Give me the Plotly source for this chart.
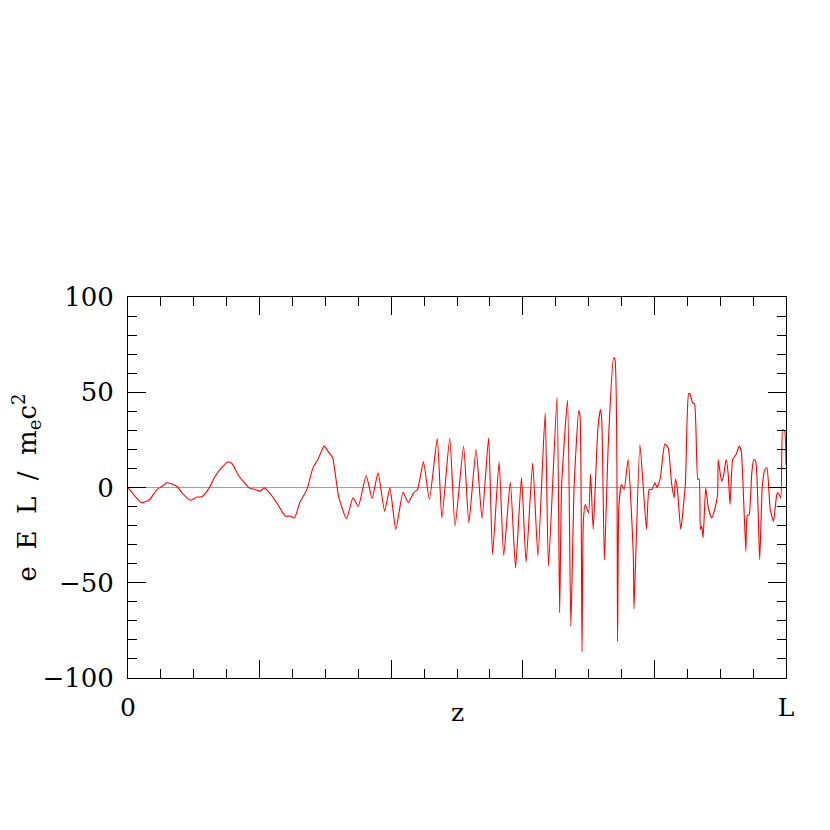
import plotly.graph_objects as go

# ---- data (z in units of L, field in e E L / m_e c^2) ----

Z = [
    0.000, 0.021, 0.033, 0.044, 0.051, 0.059, 0.066, 0.075, 0.082, 0.095,
    0.105, 0.112, 0.122, 0.132, 0.142, 0.152, 0.158, 0.168, 0.175, 0.184,
    0.193, 0.201, 0.207, 0.213, 0.226, 0.239, 0.246, 0.253, 0.261, 0.272,
    0.281, 0.289, 0.298, 0.304, 0.311, 0.320, 0.332, 0.342, 0.350, 0.362,
    0.371, 0.380, 0.390, 0.398, 0.407, 0.418, 0.426, 0.434, 0.440, 0.449,
    0.458, 0.470, 0.477, 0.489, 0.497, 0.510, 0.518, 0.529, 0.538, 0.548,
    0.554, 0.564, 0.571, 0.581, 0.589, 0.598, 0.605, 0.615, 0.623, 0.634,
    0.639, 0.652, 0.656, 0.659, 0.668, 0.673, 0.678, 0.685, 0.687, 0.690,
    0.692, 0.695, 0.700, 0.703, 0.707, 0.714, 0.718, 0.720, 0.724, 0.730,
    0.738, 0.740, 0.744, 0.746, 0.750, 0.754, 0.760, 0.768, 0.769, 0.778,
    0.788, 0.792, 0.796, 0.801, 0.804, 0.809, 0.813, 0.816, 0.821, 0.826,
    0.830, 0.832, 0.835, 0.840, 0.847, 0.852, 0.854, 0.858, 0.861, 0.866,
    0.868, 0.870, 0.872, 0.874, 0.878, 0.882, 0.887, 0.891, 0.896, 0.897,
    0.902, 0.905, 0.909, 0.912, 0.915, 0.919, 0.924, 0.929, 0.932, 0.935,
    0.939, 0.941, 0.944, 0.948, 0.951, 0.954, 0.960, 0.964, 0.968, 0.971,
    0.976, 0.981, 0.986, 0.988, 0.992, 0.995, 0.998, 1.000,
]

FIELD = [
    0.0, -8.0, -6.3, -1.0, 0.4, 2.5, 2.0, 0.4, -2.8, -6.7,
    -5.0, -4.9, -1.0, 5.6, 10.3, 13.5, 12.6, 6.3, 3.3, -0.2,
    -1.0, -1.9, -0.2, -1.9, -8.0, -15.0, -15.0, -16.0, -8.0, -1.0,
    10.3, 15.0, 21.7, 19.0, 15.6, -4.6, -16.4, -5.4, -9.8, 6.3,
    -5.8, 7.7, -12.4, -0.2, -22.0, -2.5, -8.0, -2.8, -1.0, 13.5,
    -6.3, 25.7, -16.0, 26.0, -20.3, 21.7, -18.5, 20.0, -16.3, 26.0,
    -35.2, 13.5, -35.7, 2.8, -42.2, 5.4, -39.2, 13.0, -36.0, 39.2,
    -41.3, 47.4, -65.8, 0.7, 45.8, -72.8, 0.7, 40.4, 37.4, -86.3,
    -17.7, -8.9, -13.3, 7.2, -22.0, 30.4, 40.9, 35.7, -38.2, 23.5,
    68.0, 67.5, -80.7, -9.8, 1.6, -1.0, 14.7, -36.0, -63.7, 22.6,
    -22.0, -1.0, -1.0, 2.5, 0.0, 5.0, 17.3, 23.0, 20.8, 2.5,
    -5.4, 4.5, -1.0, -22.0, 1.6, 49.3, 49.3, 44.5, 44.0, 4.2,
    4.5, -22.0, -20.3, -26.4, -0.2, -10.7, -16.0, -12.4, -3.7, 14.7,
    3.3, 6.0, 14.7, 7.7, -8.9, 14.7, 17.3, 21.7, 19.0, -1.0,
    -33.4, -15.0, -14.2, 7.7, 14.7, 13.8, -37.8, 0.7, 9.4, 10.3,
    -11.5, -17.7, -3.7, -2.8, -5.4, 30.4, 29.6, 12.0,
]

X_TICKVALS = [0, 0.2, 0.4, 0.6, 0.8, 1.0]
X_TICKTEXT = ["0", "", "", "", "", "L"]
Y_TICKVALS = [-100, -50, 0, 50, 100]
Y_TICKTEXT = ["\u2212100", "\u221250", "0", "50", "100"]

FONT = "DejaVu Serif"

fig = go.Figure()
fig.add_trace(go.Scatter(
    x=Z, y=FIELD, mode="lines",
    line=dict(color="#ff0000", width=1.1, shape="spline", smoothing=0.5),
    hoverinfo="skip", showlegend=False,
))

axis_common = dict(
    showline=True, linecolor="black", linewidth=1, mirror="ticks",
    ticks="inside", ticklen=18, tickwidth=1, tickcolor="black",
    showgrid=False,
)

fig.update_xaxes(
    range=[0, 1], tickvals=X_TICKVALS, ticktext=X_TICKTEXT,
    minor=dict(ticks="inside", ticklen=9, dtick=0.05, tickcolor="black", showgrid=False),
    zeroline=False, ticklabelstandoff=7,
    tickfont=dict(family=FONT, size=25, color="black"),
    **axis_common,
)
fig.update_yaxes(
    range=[-100, 100], tickvals=Y_TICKVALS, ticktext=Y_TICKTEXT,
    minor=dict(ticks="inside", ticklen=9, dtick=10, tickcolor="black", showgrid=False),
    zeroline=True, zerolinecolor="#a0a0a0", zerolinewidth=1,
    ticklabelstandoff=8,
    title=dict(text="e\u00a0\u00a0E\u00a0\u00a0L\u00a0\u00a0/\u00a0\u00a0m<sub>e</sub>c<sup>2</sup>",
               font=dict(family=FONT, size=26, color="black"), standoff=3),
    tickfont=dict(family=FONT, size=26, color="black"),
    **axis_common,
)

# x-axis title placed like the original (close under the tick labels)
fig.add_annotation(
    text="z", xref="paper", yref="paper", x=0.5, y=-0.09,
    xanchor="center", yanchor="middle", showarrow=False,
    font=dict(family=FONT, size=25, color="black"),
)

fig.update_layout(
    width=830, height=830,
    margin=dict(l=120, r=52, t=289, b=160, autoexpand=False),
    plot_bgcolor="white", paper_bgcolor="white",
    font=dict(family=FONT, color="black"),
)

fig.write_html("out.html")
